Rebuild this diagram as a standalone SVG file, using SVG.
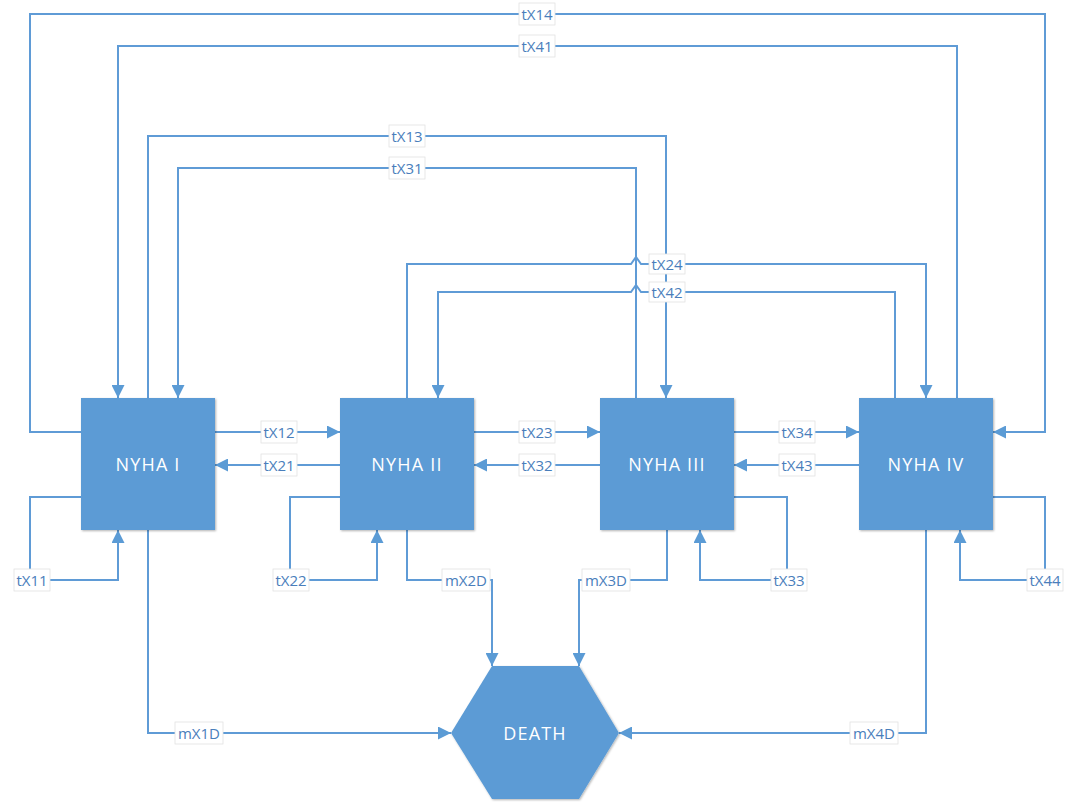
<svg xmlns="http://www.w3.org/2000/svg" width="1072" height="803" viewBox="0 0 1072 803">
<style>
.c{fill:none;stroke:#5f9bd6;stroke-width:2;marker-end:url(#ah)}
.n{fill:#5b9bd5;filter:url(#sh)}
.nt{font-family:"Open Sans","DejaVu Sans",sans-serif;font-size:18px;fill:#fff;text-anchor:middle;dominant-baseline:central;letter-spacing:1.2px}
.lb{fill:#fff;stroke:#e2e2e2;stroke-width:0.8}
.lt{font-family:"Open Sans","DejaVu Sans",sans-serif;font-size:15px;fill:#4a7ebb;text-anchor:middle;dominant-baseline:central}
</style>
<defs>
<marker id="ah" markerWidth="13" markerHeight="13" refX="13" refY="6.5" orient="auto" markerUnits="userSpaceOnUse"><path d="M0,0 L13,6.5 L0,13 z" fill="#5b9bd5"/></marker>
<filter id="sh" x="-10%" y="-10%" width="120%" height="120%"><feDropShadow dx="1" dy="1" stdDeviation="1.2" flood-color="#000" flood-opacity="0.3"/></filter>
</defs>
<rect width="1072" height="803" fill="#fff"/>
<g id="connectors">
<path class="c" d="M81,432 H30 V14 H1045 V432 H993"/>
<path class="c" d="M957,398 V46 H118 V398"/>
<path class="c" d="M148,398 V136 H666 V398"/>
<path class="c" d="M636,398 V168 H178 V398"/>
<path class="c" d="M407,398 V264 H631 L636,257 L641,264 H926 V398"/>
<path class="c" d="M895,398 V292 H641 L636,285 L631,292 H438 V398"/>
<path class="c" d="M215,432 H340"/>
<path class="c" d="M340,465 H215"/>
<path class="c" d="M474,432 H600"/>
<path class="c" d="M600,465 H474"/>
<path class="c" d="M734,432 H859"/>
<path class="c" d="M859,465 H734"/>
<path class="c" d="M81,497 H30 V580 H118 V530"/>
<path class="c" d="M340,497 H290 V580 H377 V530"/>
<path class="c" d="M734,497 H787 V580 H700 V530"/>
<path class="c" d="M993,497 H1045 V580 H960 V530"/>
<path class="c" d="M148,530 V733 H451"/>
<path class="c" d="M407,530 V580 H492 V666"/>
<path class="c" d="M667,530 V580 H579 V666"/>
<path class="c" d="M926,530 V733 H619"/>
<g id="labels">
<rect class="lb" x="519" y="3" width="36" height="22"/><text class="lt" x="537" y="14">tX14</text>
<rect class="lb" x="519" y="35" width="36" height="22"/><text class="lt" x="537" y="46">tX41</text>
<rect class="lb" x="389" y="125" width="36" height="22"/><text class="lt" x="407" y="136">tX13</text>
<rect class="lb" x="389" y="157" width="36" height="22"/><text class="lt" x="407" y="168">tX31</text>
<rect class="lb" x="649" y="254" width="36" height="20"/><text class="lt" x="667" y="264">tX24</text>
<rect class="lb" x="649" y="282" width="36" height="20"/><text class="lt" x="667" y="292">tX42</text>
<rect class="lb" x="261" y="421" width="36" height="22"/><text class="lt" x="279" y="432">tX12</text>
<rect class="lb" x="261" y="454" width="36" height="22"/><text class="lt" x="279" y="465">tX21</text>
<rect class="lb" x="519" y="421" width="36" height="22"/><text class="lt" x="537" y="432">tX23</text>
<rect class="lb" x="519" y="454" width="36" height="22"/><text class="lt" x="537" y="465">tX32</text>
<rect class="lb" x="779" y="421" width="36" height="22"/><text class="lt" x="797" y="432">tX34</text>
<rect class="lb" x="779" y="454" width="36" height="22"/><text class="lt" x="797" y="465">tX43</text>
<rect class="lb" x="14" y="569" width="36" height="22"/><text class="lt" x="32" y="580">tX11</text>
<rect class="lb" x="273" y="569" width="36" height="22"/><text class="lt" x="291" y="580">tX22</text>
<rect class="lb" x="442" y="569" width="48" height="22"/><text class="lt" x="466" y="580">mX2D</text>
<rect class="lb" x="582" y="569" width="48" height="22"/><text class="lt" x="606" y="580">mX3D</text>
<rect class="lb" x="771" y="569" width="36" height="22"/><text class="lt" x="789" y="580">tX33</text>
<rect class="lb" x="1027" y="569" width="36" height="22"/><text class="lt" x="1045" y="580">tX44</text>
<rect class="lb" x="175" y="722" width="48" height="22"/><text class="lt" x="199" y="733">mX1D</text>
<rect class="lb" x="850" y="722" width="48" height="22"/><text class="lt" x="874" y="733">mX4D</text>
</g>
</g>
<g id="nyha1"><rect class="n" x="81" y="398" width="134" height="132"/><text class="nt" x="148" y="464">NYHA I</text></g>
<g id="nyha2"><rect class="n" x="340" y="398" width="134" height="132"/><text class="nt" x="407" y="464">NYHA II</text></g>
<g id="nyha3"><rect class="n" x="600" y="398" width="134" height="132"/><text class="nt" x="667" y="464">NYHA III</text></g>
<g id="nyha4"><rect class="n" x="859" y="398" width="134" height="132"/><text class="nt" x="926" y="464">NYHA IV</text></g>
<g id="death"><polygon class="n" points="492,666 579,666 619,733 579,799 492,799 451,733"/><text class="nt" x="535" y="733">DEATH</text></g>
</svg>
